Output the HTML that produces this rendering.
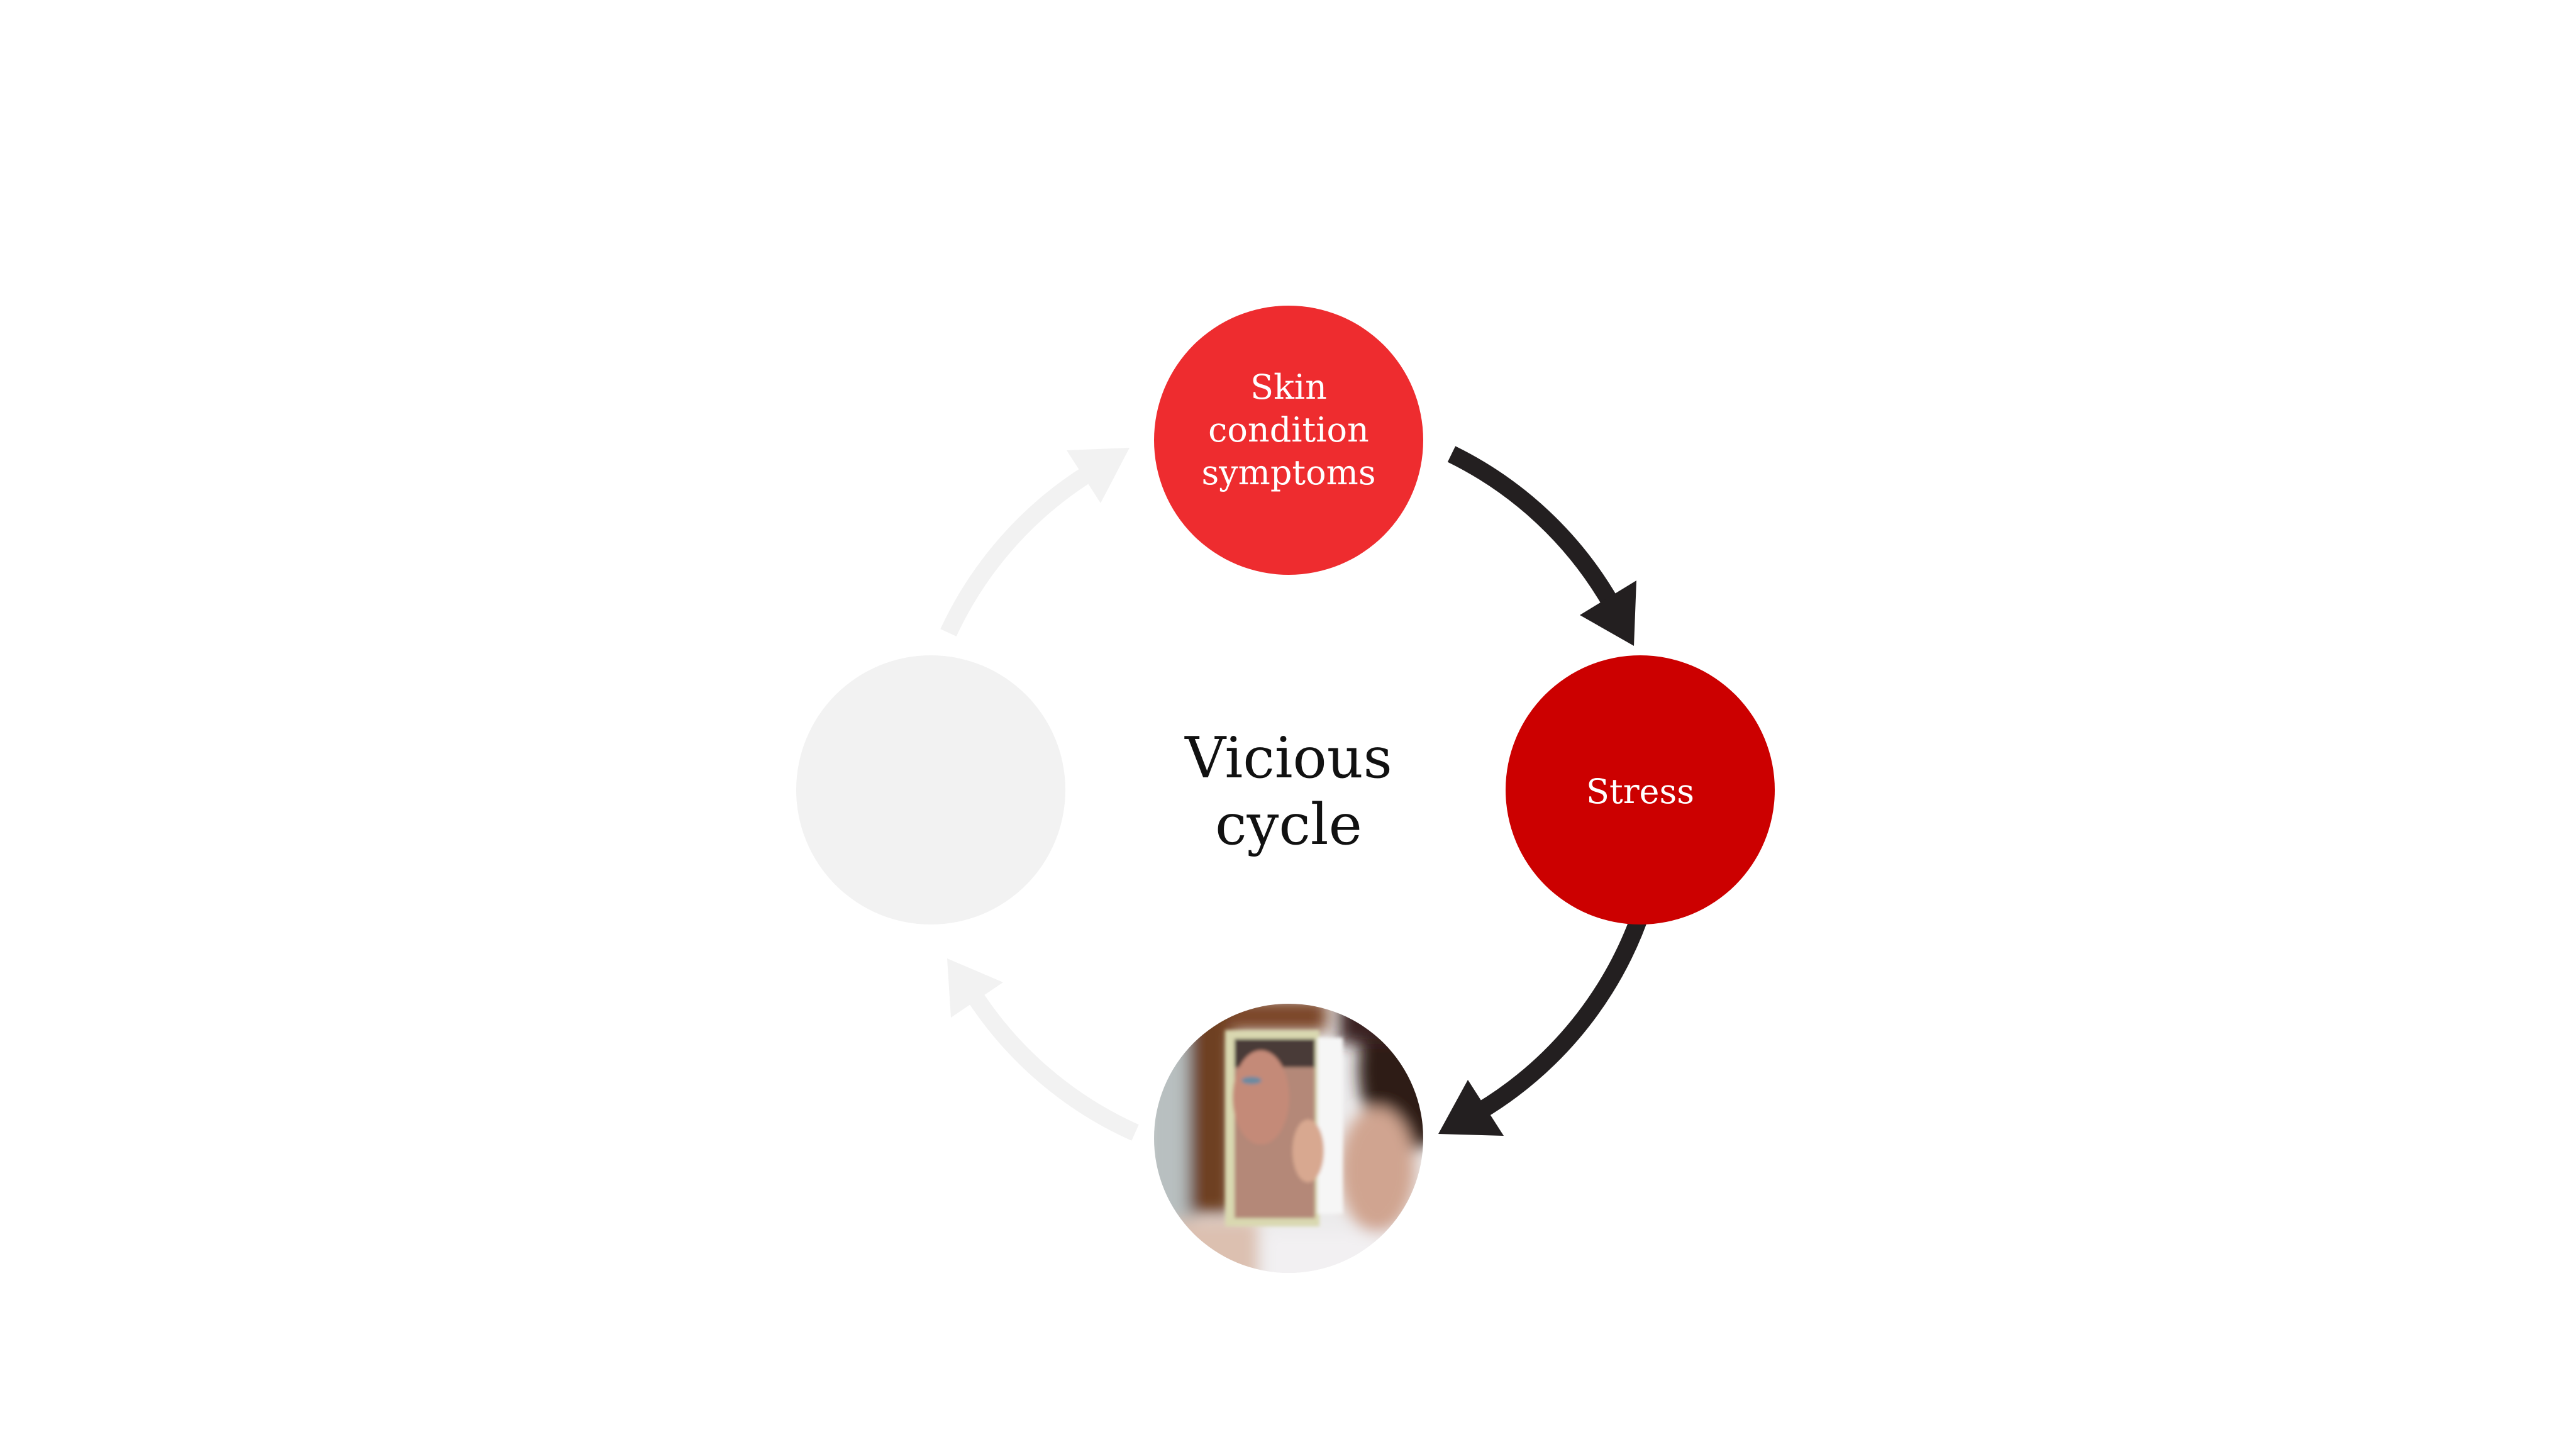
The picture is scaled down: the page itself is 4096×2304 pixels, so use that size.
<!DOCTYPE html>
<html><head><meta charset="utf-8"><style>
html,body{margin:0;padding:0;background:#fff}
svg{display:block}
text{font-family:"DejaVu Serif","Liberation Serif",serif}
</style></head><body>
<svg width="4096" height="2304" viewBox="0 0 4096 2304" xmlns="http://www.w3.org/2000/svg">
<defs>
<clipPath id="cp"><circle cx="2049" cy="1810" r="214"/></clipPath>
<filter id="bl" x="-20%" y="-20%" width="140%" height="140%"><feGaussianBlur stdDeviation="12"/></filter>
<filter id="bl2"><feGaussianBlur stdDeviation="3"/></filter>
</defs>
<rect width="4096" height="2304" fill="#fff"/>

<g fill="none" stroke="#f2f2f2" stroke-width="28">
<path d="M1805 1801 A595 595 0 0 1 1548 1581"/>
<path d="M1508 1006 A595 595 0 0 1 1732 752"/>
</g>
<polygon points="1506,1524 1595,1562 1512,1618" fill="#f2f2f2"/>
<polygon points="1796,712 1750,800 1696,716" fill="#f2f2f2"/>

<g fill="none" stroke="#231f20" stroke-width="28">
<path d="M2308 722 A595 595 0 0 1 2562 960"/>
<path d="M2640 1309 A595 595 0 0 1 2353 1767"/>
</g>
<polygon points="2598,1027 2512,978 2602,923" fill="#231f20"/>
<polygon points="2287,1803 2334,1717 2391,1806" fill="#231f20"/>

<circle cx="2049" cy="700" r="214" fill="#ee2c2f"/>
<circle cx="2608" cy="1256" r="214" fill="#cc0000"/>
<circle cx="1480" cy="1256" r="214" fill="#f2f2f2"/>

<g clip-path="url(#cp)">
<rect x="1830" y="1590" width="440" height="440" fill="#ecebec"/>
<g filter="url(#bl)">
<rect x="1820" y="1590" width="80" height="380" fill="#b8bfc0"/>
<rect x="1890" y="1590" width="70" height="340" fill="#6e3f22"/>
<rect x="1950" y="1590" width="160" height="50" fill="#7a4526"/>
<ellipse cx="2240" cy="1700" rx="80" ry="130" fill="#2e1c18"/>
<rect x="2130" y="1590" width="140" height="70" fill="#3a2420"/>
<ellipse cx="2190" cy="1860" rx="60" ry="100" fill="#d0a490"/>
<rect x="1860" y="1940" width="140" height="100" fill="#dcc0b0"/>
<rect x="2010" y="1960" width="260" height="90" fill="#f2f0f2"/>
</g>
<g filter="url(#bl2)">
<rect x="1948" y="1638" width="150" height="312" fill="#d9d8b0"/>
<rect x="1963" y="1652" width="128" height="285" fill="#b48878"/>
<rect x="1963" y="1652" width="128" height="45" fill="#4a3a38"/>
<ellipse cx="2005" cy="1745" rx="45" ry="75" fill="#c48a78"/>
<ellipse cx="1990" cy="1718" rx="16" ry="6" fill="#6a8aa0"/>
<rect x="2095" y="1650" width="40" height="280" fill="#f6f6f6"/>
<ellipse cx="2080" cy="1830" rx="25" ry="50" fill="#d8a890"/>
</g>
</g>

<g fill="#fff" font-size="54" text-anchor="middle">
<text x="2049" y="634">Skin</text>
<text x="2049" y="702">condition</text>
<text x="2049" y="770">symptoms</text>
<text x="2608" y="1277">Stress</text>
</g>
<g fill="#111" font-size="90" text-anchor="middle">
<text x="2049" y="1236">Vicious</text>
<text x="2049" y="1342">cycle</text>
</g>
</svg>
</body></html>
